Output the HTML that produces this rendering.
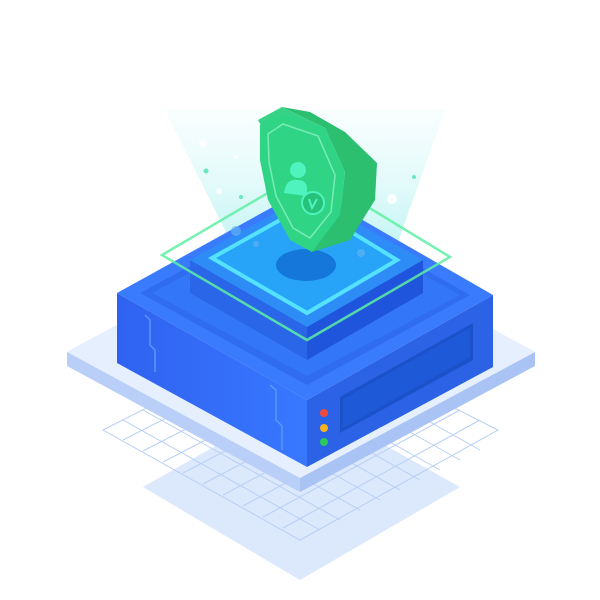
<!DOCTYPE html>
<html><head><style>html,body{margin:0;padding:0;background:#fff;}svg{display:block}</style></head>
<body>
<svg width="600" height="600" viewBox="0 0 600 600" xmlns="http://www.w3.org/2000/svg">
<defs>
<linearGradient id="beam" x1="0" y1="0" x2="0" y2="1">
<stop offset="0" stop-color="#e9fbfc" stop-opacity="0.3"/>
<stop offset="1" stop-color="#b9f3f2" stop-opacity="0.9"/>
</linearGradient>
<linearGradient id="left" x1="0" y1="0" x2="1" y2="0">
<stop offset="0" stop-color="#2f62f0"/><stop offset="1" stop-color="#3878ff"/>
</linearGradient>
</defs>
<!-- shadow slab -->
<polygon points="143,487 300,398 460,487 300,580" fill="#dce8fc"/>
<!-- grid -->
<g stroke="#b8cff5" stroke-width="1" fill="none">
<polygon points="103,430 300,330 498,430 300,540"/>
<path d="M123,440 L320,340 M143,451 L340,350 M163,462 L360,360 M183,473 L380,370 M203,484 L400,380 M223,495 L420,390 M243,506 L440,400 M263,517 L460,410 M283,528 L480,420"/>
<path d="M123,420 L320,530 M143,410 L340,520 M163,400 L360,510 M183,390 L380,500 M203,380 L400,490 M223,370 L420,480 M243,360 L440,470 M263,350 L460,460 M283,340 L480,450"/>
</g>
<!-- platform -->
<polygon points="67,352 300,226 535,352 300,478 300,492 67,366" fill="#b9cff8"/>
<polygon points="535,352 535,366 300,492 300,478" fill="#a9c3f5"/>
<polygon points="67,352 300,226 535,352 300,478" fill="#e6effd"/>
<!-- beam -->
<polygon points="165,110 445,110 395,250 235,250" fill="url(#beam)"/>
<!-- box -->
<polygon points="117,293 307,400 307,467 117,363" fill="url(#left)"/>
<polygon points="307,400 493,295 493,367 307,467" fill="#2c63e6"/>
<polygon points="117,293 307,188 493,295 307,400" fill="#3a7bfd"/>
<polygon points="140,293 307,203 470,295 307,385" fill="#2f6cf0"/>
<polygon points="152,293 307,210 460,295 307,376" fill="#3476f8"/>
<path d="M145,315 L150,320 L150,345 L155,350 L155,372 M270,385 L276,390 L276,420 L282,426 L282,450" stroke="#5b95ff" stroke-width="1.5" fill="none"/>
<polygon points="340,397 473,323 473,360 340,433" fill="#1b51c9"/>
<polygon points="343,399 470,328 470,357 343,428" fill="#1e5ad8"/>
<circle cx="324" cy="413" r="4" fill="#f24a3a"/>
<circle cx="324" cy="428" r="4" fill="#f8b21c"/>
<circle cx="324" cy="442" r="4" fill="#2bc95a"/>
<!-- inner step -->
<polygon points="190,260 307,327 307,360 190,293" fill="#2a66e8"/>
<polygon points="307,327 423,260 423,293 307,360" fill="#1f55dc"/>
<polygon points="190,260 307,195 423,260 307,327" fill="#2d8cf5"/>
<polygon points="212,258 307,205 397,260 307,313" fill="#27a3f7" stroke="#55e2ff" stroke-width="4"/>
<ellipse cx="306" cy="265" rx="30" ry="16" fill="#1477d9"/>
<!-- green square -->
<polygon points="162,255 307,170 450,257 307,340" fill="none" stroke="#5ef0a2" stroke-width="2.5" opacity="0.85"/>
<!-- particles -->
<g fill="#fff" opacity="0.8"><circle cx="203" cy="143" r="4"/><circle cx="219" cy="191" r="3"/><circle cx="392" cy="199" r="5"/><circle cx="236" cy="157" r="2"/></g>
<g fill="#6de5bf"><circle cx="206" cy="171" r="2.5"/><circle cx="241" cy="197" r="2"/><circle cx="414" cy="177" r="2"/></g>
<g fill="#5fb3f5" opacity="0.7"><circle cx="236" cy="231" r="5"/><circle cx="256" cy="244" r="3"/><circle cx="361" cy="253" r="4"/></g>
<!-- shield -->
<polygon points="282,107 310,112 345,132 377,163 375,200 350,240 312,252 340,215 345,172 325,128" fill="#2bbf6f"/>
<polygon points="258,120 282,107 325,128 330,130 300,120 262,127" fill="#36d387"/>
<polygon points="260,125 282,113 325,128 345,172 340,215 312,252 290,240 268,200 260,160" fill="#2fd585"/>
<path d="M268,134 L283,124 L318,136 L335,175 L331,212 L310,238 L293,228 L276,196 L269,162 Z" fill="none" stroke="#8ef0c3" stroke-width="1.5" opacity="0.8"/>
<circle cx="298" cy="170" r="8" fill="#4ef3bd"/>
<path d="M284,193 Q286,178 298,180 Q310,180 306,196 Z" fill="#4ef3bd"/>
<circle cx="313" cy="203" r="11" fill="#27c27a" stroke="#4ef3bd" stroke-width="2"/>
<path d="M309,199 L312,208 L317,199" stroke="#4ef3bd" stroke-width="2" fill="none"/>
</svg>
</body></html>
